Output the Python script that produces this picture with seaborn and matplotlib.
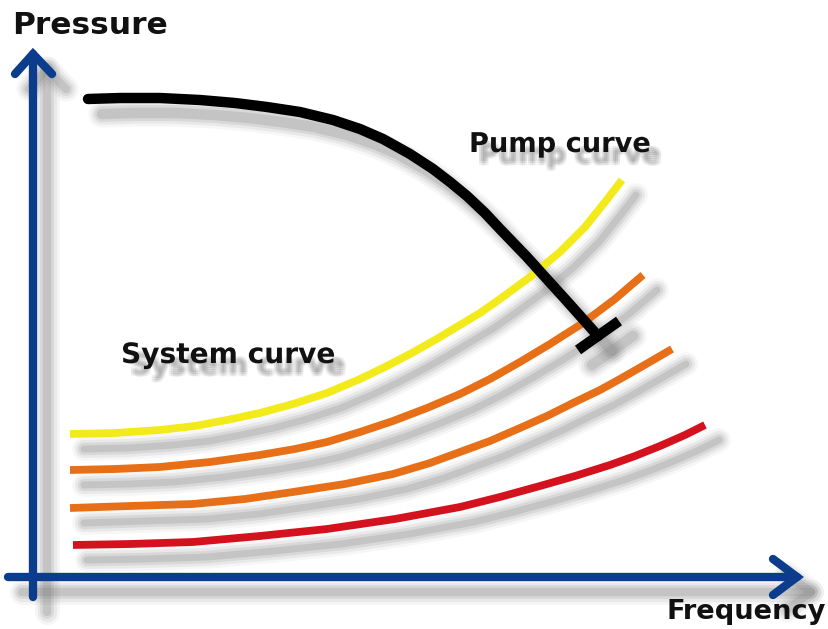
import matplotlib
matplotlib.use("Agg")
import matplotlib.pyplot as plt
import matplotlib.patheffects as pe
import matplotlib.transforms as mtransforms
import seaborn as sns

# values: frequency (x) and pressure (y), origin at the axes corner
pump_freq = [55, 87, 127, 167, 202, 234, 267, 300, 327, 350, 377, 400, 417, 434,
             452, 467, 494, 512, 532, 549, 565]
pump_press = [478, 479, 479, 477, 474, 470, 465, 457, 448, 438, 423, 408, 395, 381,
              364, 348, 320, 300, 278, 259, 241]
pump_bar_freq = [545, 586]
pump_bar_press = [227, 256]

sys1_freq = [37, 82, 127, 162, 194, 227, 260, 294, 327, 352, 377, 402, 427, 447,
             467, 497, 527, 552, 572, 589]
sys1_press = [143, 144, 147, 151, 157, 164, 173, 184, 198, 210, 223, 237, 252, 264,
              278, 300, 325, 350, 375, 397]

sys2_freq = [37, 82, 127, 177, 227, 262, 294, 327, 360, 394, 427, 457, 487, 517,
             550, 582, 610]
sys2_press = [107, 108, 110, 115, 122, 128, 135, 145, 156, 169, 183, 198, 215, 233,
              254, 278, 302]

sys3_freq = [37, 97, 160, 212, 260, 312, 360, 397, 427, 457, 487, 514, 540, 567,
             587, 615, 639]
sys3_press = [69, 71, 73, 78, 85, 93, 103, 114, 125, 136, 149, 161, 174, 187,
              198, 214, 228]

sys4_freq = [40, 97, 160, 227, 294, 362, 427, 467, 507, 542, 577, 602, 627, 652, 672]
sys4_press = [32, 33, 35, 41, 48, 58, 70, 80, 91, 101, 112, 121, 131, 142, 152]

# axis arrows
yaxis_freq = [0, 0]
yaxis_press = [-20, 523]
yhead_freq = [-18, 0, 19]
yhead_press = [503, 523, 503]
xaxis_freq = [-25, 764]
xaxis_press = [0, 0]
xhead_freq = [740, 764, 740]
xhead_press = [18, 0, -18]

system_curves = [
    (sys1_freq, sys1_press, "#f3ea1b"),
    (sys2_freq, sys2_press, "#e66f17"),
    (sys3_freq, sys3_press, "#e66f17"),
    (sys4_freq, sys4_press, "#d3121d"),
]
blue = "#0c3d8c"

sns.set_theme(style="white")
plt.rcParams['font.family'] = ['DejaVu Sans']

fig = plt.figure(figsize=(8.29, 6.29), dpi=100)
ax = fig.add_axes([0, 0, 1, 1])
ax.set_xlim(-33, 796)
ax.set_ylim(-52, 577)
ax.axis("off")

shadow = mtransforms.offset_copy(ax.transData, fig=fig, x=14, y=-15, units="dots")


def draw_shadow(x, y, lw):
    # a soft blurred drop shadow, built up from a few wide translucent strokes
    for extra, a in [(12, 0.06), (8, 0.09), (4, 0.13), (0, 0.18)]:
        ax.plot(x, y, color="#6a6a6a", lw=lw + extra, alpha=a,
                solid_capstyle="round", solid_joinstyle="round",
                transform=shadow, zorder=1)


# shadows first
draw_shadow(yaxis_freq, yaxis_press, 6)
draw_shadow(xaxis_freq, xaxis_press, 6)
draw_shadow(yhead_freq, yhead_press, 6)
draw_shadow(xhead_freq, xhead_press, 6)
for fx, py, c in system_curves:
    draw_shadow(fx, py, 5)
draw_shadow(pump_freq, pump_press, 7.5)
draw_shadow(pump_bar_freq, pump_bar_press, 7.5)

# axes
for fx, py in [(yaxis_freq, yaxis_press), (xaxis_freq, xaxis_press),
               (yhead_freq, yhead_press), (xhead_freq, xhead_press)]:
    ax.plot(fx, py, color=blue, lw=6, solid_capstyle="round",
            solid_joinstyle="miter", zorder=3)

# system curves
for fx, py, c in system_curves:
    sns.lineplot(x=fx, y=py, sort=False, color=c, linewidth=5.6, ax=ax,
                 legend=False, zorder=4, solid_capstyle="butt",
                 solid_joinstyle="round")

# pump curve
sns.lineplot(x=pump_freq, y=pump_press, sort=False, color="black", linewidth=7.5,
             ax=ax, legend=False, zorder=5, solid_capstyle="round",
             solid_joinstyle="round")
sns.lineplot(x=pump_bar_freq, y=pump_bar_press, sort=False, color="black",
             linewidth=7.5, ax=ax, legend=False, zorder=5, solid_capstyle="butt")


def label(text, x, y, size, ha="left", shade=False):
    effects = []
    if shade:
        for dx in (-1.5, 0, 1.5):
            for dy in (-1.5, 0, 1.5):
                effects.append(pe.SimplePatchShadow(offset=(7 + dx, -8 + dy),
                                                    shadow_rgbFace="#606060",
                                                    alpha=0.07))
        effects.append(pe.Normal())
    fig.text(x / 829, 1 - y / 629, text, fontsize=size, fontweight="bold",
             color="#111111", ha=ha, va="center", path_effects=effects)


label("Pressure", 12, 25, 22.5)
label("Pump curve", 469, 145, 19.6, shade=True)
label("System curve", 121, 355, 20.2, shade=True)
label("Frequency", 826, 612, 19.6, ha="right")

fig.savefig("out.png", dpi=100)
